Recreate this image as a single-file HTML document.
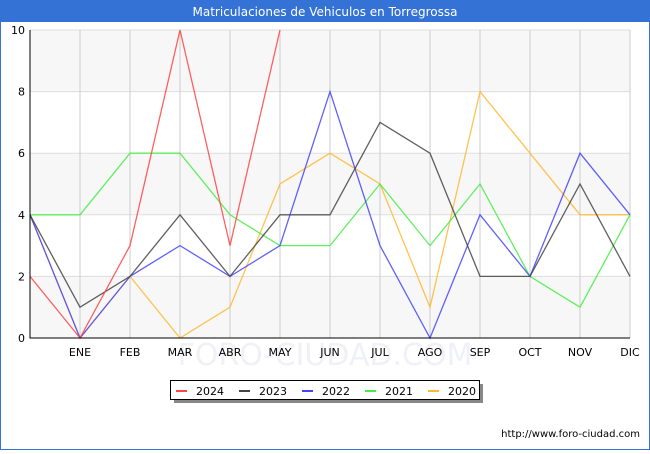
<!DOCTYPE html>
<html><head><meta charset="utf-8"><style>
body{margin:0;width:650px;height:450px;overflow:hidden;background:#fff;font-family:"DejaVu Sans","Liberation Sans",sans-serif}
</style></head><body>
<svg width="650" height="450" xmlns="http://www.w3.org/2000/svg">
<rect x="0.5" y="0.5" width="649" height="449" fill="#fff" stroke="#3572d6"/>
<rect x="0" y="0" width="650" height="22" fill="#3572d6"/>
<text x="325" y="16" text-anchor="middle" font-size="12" fill="#fff">Matriculaciones de Vehiculos en Torregrossa</text>
<g id="plot"></g>
<rect x="174" y="384" width="309" height="19" fill="#888"/>
<rect x="170.5" y="380.5" width="309" height="19" fill="#fff" stroke="#000"/>
<g id="legend"></g>
<text x="640" y="437" text-anchor="end" font-size="10" fill="#000">http://www.foro-ciudad.com</text>
</svg>
<script>
const months=["","ENE","FEB","MAR","ABR","MAY","JUN","JUL","AGO","SEP","OCT","NOV","DIC"];
const yTicks=[0,2,4,6,8,10];
const seriesNames=["2020","2021","2022","2023","2024"];
const s2024=[2,0,3,10,3,10];
const s2023=[4,1,2,4,2,4,4,7,6,2,2,5,2];
const s2022=[4,0,2,3,2,3,8,3,0,4,2,6,4];
const s2021=[4,4,6,6,4,3,3,5,3,5,2,1,4];
const s2020=[4,0,2,0,1,5,6,5,1,8,6,4,4];
const colors={"2024":"#ff4444","2023":"#444444","2022":"#4444ff","2021":"#44ee44","2020":"#ffb833"};
const data={"2024":s2024,"2023":s2023,"2022":s2022,"2021":s2021,"2020":s2020};
const NS="http://www.w3.org/2000/svg";
const X0=30,X1=630,Y0=338,Y1=30;
const xs=i=>X0+i*(X1-X0)/12, ys=v=>Y0-v*(Y0-Y1)/10;
const g=document.getElementById('plot');
function mk(t,a){const e=document.createElementNS(NS,t);for(const k in a)e.setAttribute(k,a[k]);return e;}
for(let i=0;i<5;i++){
 const r=mk('rect',{x:X0,y:ys(10-2*i),width:X1-X0,height:ys(0)-ys(2),fill:i%2==0?'#f7f7f7':'#fff'});
 
 
 g.appendChild(r);}
const wm=mk('text',{x:325,y:365,'text-anchor':'middle','font-size':30,fill:'#f0f0f8'});
wm.textContent='FORO-CIUDAD.COM';


g.appendChild(wm);
yTicks.forEach(v=>{
 const l=mk('line',{x1:X0,x2:X1,y1:ys(v),y2:ys(v),stroke:'#ddd'});
 
 
 g.appendChild(l);
 const t=mk('text',{x:X0-5,y:ys(v)+4,'text-anchor':'end','font-size':11});
 t.textContent=v;
 
 
 g.appendChild(t);});
months.forEach((m,i)=>{
 const l=mk('line',{x1:xs(i),x2:xs(i),y1:Y1,y2:Y0,stroke:'#ccc'});
 
 
 g.appendChild(l);
 if(m){const t=mk('text',{x:xs(i),y:356,'text-anchor':'middle','font-size':11});
 t.textContent=m;
 
 
 g.appendChild(t);}});
seriesNames.forEach(n=>{
 const d=data[n];
 const p=mk('polyline',{points:d.map((v,i)=>xs(i)+','+ys(v)).join(' '),fill:'none',stroke:colors[n],'stroke-width':1.3,'stroke-opacity':0.85});
 
 
 g.appendChild(p);});
const ax=mk('path',{d:`M${X0},${Y1}V${Y0}H${X1}`,stroke:'#000',fill:'none'});


g.appendChild(ax);
const lg=document.getElementById('legend');
["2024","2023","2022","2021","2020"].forEach((n,i)=>{
 const x=176+i*63;
 const l=mk('line',{x1:x,x2:x+11,y1:391,y2:391,stroke:colors[n],'stroke-width':2});
 
 
 lg.appendChild(l);
 const t=mk('text',{x:x+20,y:395,'font-size':11});
 t.textContent=n;
 
 
 lg.appendChild(t);});
</script>
</body></html>
